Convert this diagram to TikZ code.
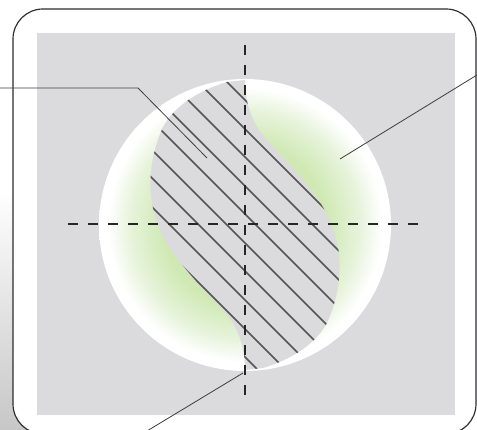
\documentclass[tikz,border=0pt]{standalone}
\usepackage{xcolor}
\usepackage{tikz}
\usetikzlibrary{calc}
\definecolor{panelgray}{RGB}{219,219,221}
\definecolor{hatchgray}{RGB}{85,85,88}
\definecolor{framegray}{RGB}{45,45,50}
\definecolor{leafgreen}{RGB}{208,233,180}
\definecolor{paleleaf}{RGB}{230,243,218}
\pgfdeclareradialshading{discshade}{\pgfpoint{0bp}{0bp}}{%
  color(0bp)=(leafgreen); color(14bp)=(leafgreen); color(19.5bp)=(paleleaf);
  color(23.5bp)=(white); color(50bp)=(white)}
\tikzset{
  framebox/.style={draw=framegray,line width=1pt,fill=white,rounded corners=9mm},
  axisline/.style={line width=2pt,black!85,dash pattern=on 3mm off 3mm},
  hatchline/.style={line width=1.3pt,draw=hatchgray},
  leaderline/.style={line width=0.7pt,draw=black!75}
}
% S-shaped cut region, pixel coordinates
\newcommand{\sblob}{(227,82) .. controls (200,90) and (175,105) .. (163,127)
  .. controls (148,160) and (147,195) .. (157,222)
  .. controls (170,258) and (205,290) .. (225,312)
  .. controls (240,330) and (245,350) .. (245,370) -- (263,368)
  .. controls (290,360) and (315,345) .. (327,323)
  .. controls (342,290) and (343,255) .. (333,228)
  .. controls (320,192) and (285,160) .. (265,138)
  .. controls (250,120) and (245,100) .. (245,80) -- cycle}

\begin{document}
\begin{tikzpicture}[x=0.03cm,y=-0.03cm]
  \useasboundingbox (0,0) rectangle (477,430);
  \fill[white] (0,0) rectangle (477,430);
  \shade[top color=white,bottom color=black!22] (0,190) rectangle (60,430);
  \draw[framebox] (13,9) rectangle (476,434);
  \fill[panelgray] (37,33) rectangle (455,415);
  \shade[shading=discshade] (245,225) circle[radius=146];
  \fill[panelgray] \sblob;
  \begin{scope}
    \clip \sblob;
    \foreach \c in {-145,-116,-88,-59,-31,-2,26,55,84,112}
      \draw[hatchline] (100,{100+\c}) -- (420,{420+\c});
  \end{scope}
  % axes
  \coordinate (axtop) at (245,45);
  \coordinate (axbot) at (245,400);
  \coordinate (axleft) at (68,224);
  \coordinate (axright) at (423,224);
  \draw[axisline] (axtop) -- (axbot);
  \draw[axisline] (axleft) -- (axright);
  % leaders
  \coordinate (cutlabel) at (0,88);
  \coordinate (cutbend) at (138,88);
  \coordinate (cutpoint) at (207,158);
  \coordinate (disclabel) at (477,75);
  \coordinate (discpoint) at (340,159);
  \coordinate (tiplabel) at (147,431);
  \coordinate (tippoint) at (243,373);
  \draw[leaderline] (cutlabel) -- (cutbend) -- (cutpoint);
  \draw[leaderline] (disclabel) -- (discpoint);
  \draw[leaderline] (tiplabel) -- (tippoint);
\end{tikzpicture}
\end{document}
